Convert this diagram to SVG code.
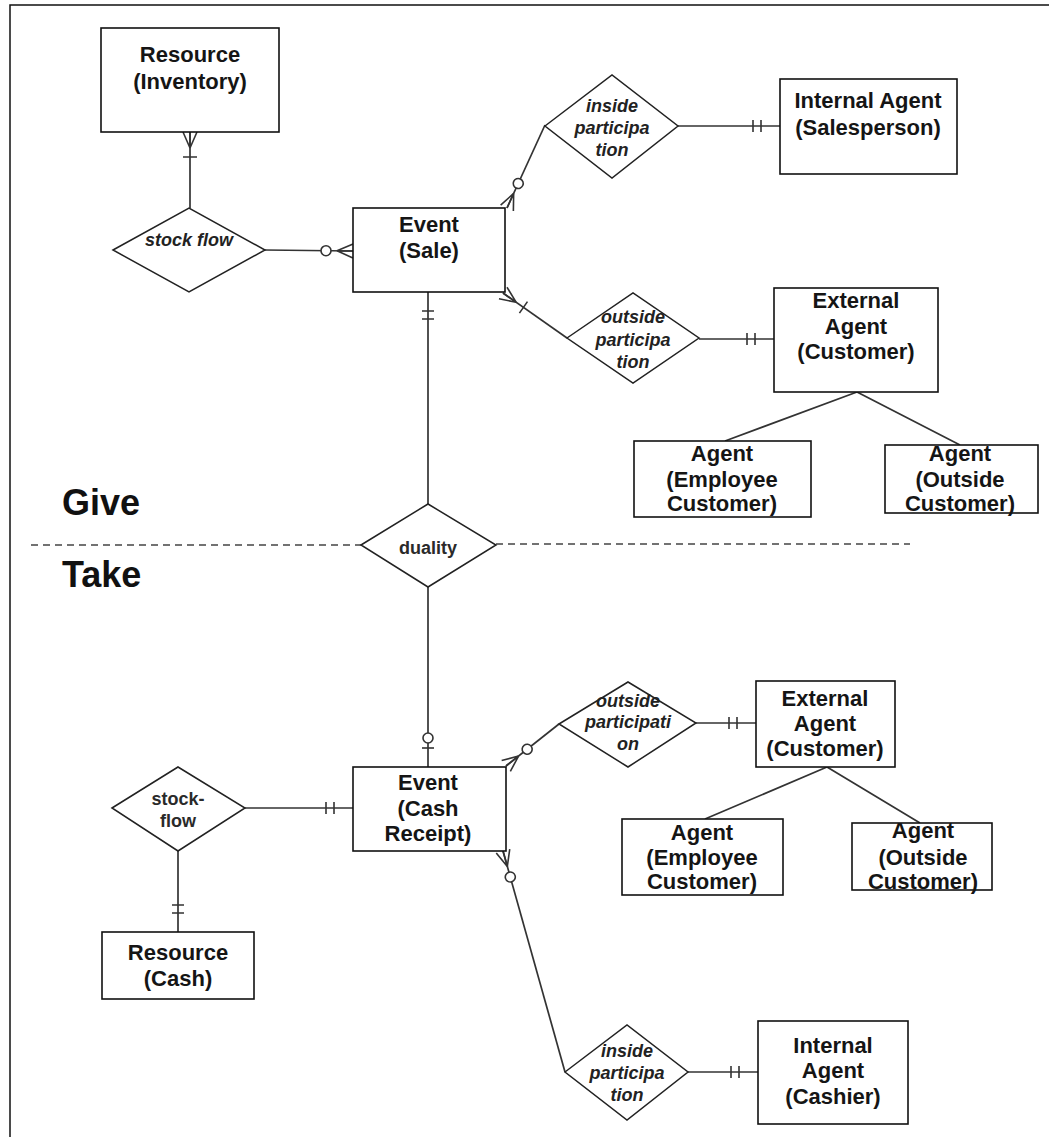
<svg xmlns="http://www.w3.org/2000/svg" width="1049" height="1137" viewBox="0 0 1049 1137">
<defs>
<style>
.ent{fill:#fff;stroke:#111;stroke-width:1.6}
.rel{fill:#fff;stroke:#222;stroke-width:1.5}
.lbl{font-family:"Liberation Sans",Arial,sans-serif;font-weight:bold;font-size:22px;fill:#151515;text-anchor:middle}
.rl{font-family:"Liberation Sans",Arial,sans-serif;font-weight:bold;font-style:italic;font-size:18px;fill:#222;text-anchor:middle}
.rn{font-family:"Liberation Sans",Arial,sans-serif;font-weight:bold;font-size:18px;fill:#2a2a2a;text-anchor:middle}
.big{font-family:"Liberation Sans",Arial,sans-serif;font-weight:bold;font-size:36px;fill:#111}
.con{fill:none;stroke:#333;stroke-width:1.7}
.mk{fill:none;stroke:#333;stroke-width:1.6}
.mc{fill:#fff;stroke:#333;stroke-width:1.6}
.dash{fill:none;stroke:#444;stroke-width:1.5;stroke-dasharray:7 5}
</style>
<marker id="crowZero" markerUnits="userSpaceOnUse" orient="auto" refX="0" refY="0" markerWidth="40" markerHeight="20" overflow="visible">
<path class="mk" d="M0,-7 L16,0 M0,7 L16,0 M0,0 L16,0"/>
<circle class="mc" cx="27" cy="0" r="5"/>
</marker>
<marker id="crowOne" markerUnits="userSpaceOnUse" orient="auto" refX="0" refY="0" markerWidth="40" markerHeight="20" overflow="visible">
<path class="mk" d="M0,-7 L16,0 M0,7 L16,0 M0,0 L16,0 M25,-7 L25,7"/>
</marker>
<marker id="oneOne" markerUnits="userSpaceOnUse" orient="auto" refX="0" refY="0" markerWidth="40" markerHeight="20" overflow="visible">
<path class="mk" d="M19,-6 L19,6 M27,-6 L27,6"/>
</marker>
<marker id="zeroOne" markerUnits="userSpaceOnUse" orient="auto" refX="0" refY="0" markerWidth="40" markerHeight="20" overflow="visible">
<path class="mk" d="M19,-6 L19,6"/>
<circle class="mc" cx="29" cy="0" r="5"/>
</marker>
</defs>
<rect width="1049" height="1137" fill="#fff"/>
<path d="M10,1137 L10,5 L1049,5" fill="none" stroke="#111" stroke-width="1.5"/>

<g id="divider">
<path class="dash" d="M31,545 L361,545 M496,544 L910,544"/>
<text class="big" x="62" y="515">Give</text>
<text class="big" x="62" y="587">Take</text>
</g>

<g id="connectors">
<path class="con" d="M190,132 L190,208" marker-start="url(#crowOne)"/>
<path class="con" d="M353,251 L265,250" marker-start="url(#crowZero)"/>
<path class="con" d="M507,208 L545,125" marker-start="url(#crowZero)"/>
<path class="con" d="M780,126 L678,126" marker-start="url(#oneOne)"/>
<path class="con" d="M503,293 L567,338" marker-start="url(#crowOne)"/>
<path class="con" d="M774,339 L699,339" marker-start="url(#oneOne)"/>
<path class="con" d="M857,392 L725,441 M857,392 L960,445"/>
<path class="con" d="M428,292 L428,504" marker-start="url(#oneOne)"/>
<path class="con" d="M428,767 L428,587" marker-start="url(#zeroOne)"/>
<path class="con" d="M353,808 L245,808" marker-start="url(#oneOne)"/>
<path class="con" d="M178,932 L178,851" marker-start="url(#oneOne)"/>
<path class="con" d="M506,766 L559,724" marker-start="url(#crowZero)"/>
<path class="con" d="M756,723 L696,723" marker-start="url(#oneOne)"/>
<path class="con" d="M827,767 L705,819 M827,767 L920,823"/>
<path class="con" d="M503,851 L565,1072" marker-start="url(#crowZero)"/>
<path class="con" d="M758,1072 L688,1072" marker-start="url(#oneOne)"/>
</g>

<g id="resource-inventory">
<rect class="ent" x="101" y="28" width="178" height="104"/>
<text class="lbl" x="190" y="62">Resource</text>
<text class="lbl" x="190" y="89">(Inventory)</text>
</g>
<g id="stock-flow-top">
<polygon class="rel" points="113,250 189,208 265,250 189,292"/>
<text class="rl" x="189" y="246">stock flow</text>
</g>
<g id="event-sale">
<rect class="ent" x="353" y="208" width="152" height="84"/>
<text class="lbl" x="429" y="232">Event</text>
<text class="lbl" x="429" y="258">(Sale)</text>
</g>
<g id="inside-participation-top">
<polygon class="rel" points="545,126 612,75 678,126 612,178"/>
<text class="rl" x="612" y="112">inside</text>
<text class="rl" x="612" y="134">participa</text>
<text class="rl" x="612" y="156">tion</text>
</g>
<g id="internal-agent-salesperson">
<rect class="ent" x="780" y="79" width="177" height="95"/>
<text class="lbl" x="868" y="108">Internal Agent</text>
<text class="lbl" x="868" y="135">(Salesperson)</text>
</g>
<g id="outside-participation-top">
<polygon class="rel" points="567,338 633,293 699,338 633,383"/>
<text class="rl" x="633" y="323">outside</text>
<text class="rl" x="633" y="346">participa</text>
<text class="rl" x="633" y="368">tion</text>
</g>
<g id="external-agent-top">
<rect class="ent" x="774" y="288" width="164" height="104"/>
<text class="lbl" x="856" y="308">External</text>
<text class="lbl" x="856" y="334">Agent</text>
<text class="lbl" x="856" y="359">(Customer)</text>
</g>
<g id="agent-employee-top">
<rect class="ent" x="634" y="441" width="177" height="76"/>
<text class="lbl" x="722" y="461">Agent</text>
<text class="lbl" x="722" y="487">(Employee</text>
<text class="lbl" x="722" y="511">Customer)</text>
</g>
<g id="agent-outside-top">
<rect class="ent" x="885" y="445" width="153" height="68"/>
<text class="lbl" x="960" y="461">Agent</text>
<text class="lbl" x="960" y="487">(Outside</text>
<text class="lbl" x="960" y="511">Customer)</text>
</g>
<g id="duality">
<polygon class="rel" points="361,545 428,504 496,545 428,587"/>
<text class="rn" x="428" y="554">duality</text>
</g>
<g id="event-cash-receipt">
<rect class="ent" x="353" y="767" width="153" height="84"/>
<text class="lbl" x="428" y="790">Event</text>
<text class="lbl" x="428" y="816">(Cash</text>
<text class="lbl" x="428" y="841">Receipt)</text>
</g>
<g id="stock-flow-bottom">
<polygon class="rel" points="112,808 178,767 245,808 178,851"/>
<text class="rn" x="178" y="805">stock-</text>
<text class="rn" x="178" y="827">flow</text>
</g>
<g id="resource-cash">
<rect class="ent" x="102" y="932" width="152" height="67"/>
<text class="lbl" x="178" y="960">Resource</text>
<text class="lbl" x="178" y="986">(Cash)</text>
</g>
<g id="outside-participation-bottom">
<polygon class="rel" points="559,724 628,682 696,723 628,767"/>
<text class="rl" x="628" y="707">outside</text>
<text class="rl" x="628" y="728">participati</text>
<text class="rl" x="628" y="750">on</text>
</g>
<g id="external-agent-bottom">
<rect class="ent" x="756" y="681" width="139" height="86"/>
<text class="lbl" x="825" y="706">External</text>
<text class="lbl" x="825" y="731">Agent</text>
<text class="lbl" x="825" y="756">(Customer)</text>
</g>
<g id="agent-employee-bottom">
<rect class="ent" x="622" y="819" width="161" height="76"/>
<text class="lbl" x="702" y="840">Agent</text>
<text class="lbl" x="702" y="865">(Employee</text>
<text class="lbl" x="702" y="889">Customer)</text>
</g>
<g id="agent-outside-bottom">
<rect class="ent" x="852" y="823" width="140" height="67"/>
<text class="lbl" x="923" y="838">Agent</text>
<text class="lbl" x="923" y="865">(Outside</text>
<text class="lbl" x="923" y="889">Customer)</text>
</g>
<g id="inside-participation-bottom">
<polygon class="rel" points="565,1072 627,1025 688,1072 627,1120"/>
<text class="rl" x="627" y="1057">inside</text>
<text class="rl" x="627" y="1079">participa</text>
<text class="rl" x="627" y="1101">tion</text>
</g>
<g id="internal-agent-cashier">
<rect class="ent" x="758" y="1021" width="150" height="103"/>
<text class="lbl" x="833" y="1053">Internal</text>
<text class="lbl" x="833" y="1078">Agent</text>
<text class="lbl" x="833" y="1104">(Cashier)</text>
</g>
</svg>
